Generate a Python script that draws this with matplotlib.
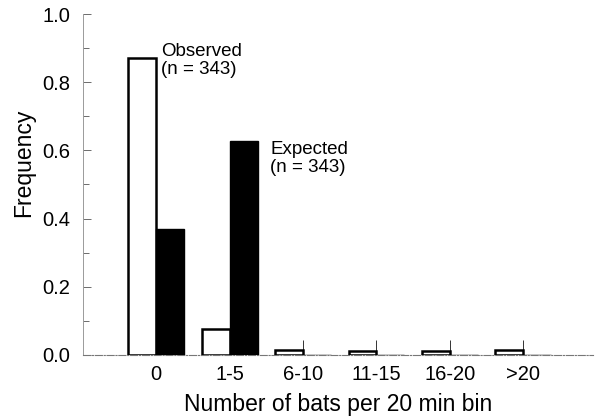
import numpy as np
import matplotlib
matplotlib.use("Agg")
import matplotlib.pyplot as plt
from matplotlib.ticker import MultipleLocator

plt.rcParams["font.family"] = ["Liberation Sans", "DejaVu Sans"]

BINS = ["0", "1-5", "6-10", "11-15", "16-20", ">20"]
OBSERVED = [0.871, 0.076, 0.015, 0.011, 0.010, 0.015]
EXPECTED = [0.370, 0.628, 0.0, 0.0, 0.0, 0.0]
N_OBS = 343
N_EXP = 343

W = 0.38

fig = plt.figure(figsize=(5.96, 4.18), dpi=100)
ax = fig.add_axes([0.139, 0.151, 0.856, 0.8155])

x = np.arange(len(BINS))
ax.bar(x - W / 2, OBSERVED, W, color="white", edgecolor="black", lw=1.8, zorder=3)
ax.bar(x + W / 2, EXPECTED, W, color="black", edgecolor="black", lw=1.0, zorder=3)

ax.set_xlim(-1.0, 5.95)
ax.set_ylim(0, 1.0)
ax.set_xticks(x)
ax.set_xticklabels(BINS, fontsize=14.5)
ax.yaxis.set_major_locator(MultipleLocator(0.2))
ax.yaxis.set_minor_locator(MultipleLocator(0.1))
ax.set_yticklabels([f"{v:.1f}" for v in ax.get_yticks()], fontsize=14.5)
ax.tick_params(axis="y", which="major", direction="in", length=6, width=0.6, color="#555555", pad=9)
ax.tick_params(axis="y", which="minor", direction="in", length=4, width=0.6, color="#555555")
ax.tick_params(axis="x", direction="in", length=11, width=0.7, color="#333333", pad=7)

for s in ["top", "right"]:
    ax.spines[s].set_visible(False)
ax.spines["left"].set_color("#9a9a9a")
ax.spines["left"].set_linewidth(0.7)
ax.spines["left"].set_linestyle((0, (4, 1)))
ax.spines["bottom"].set_color("#777777")
ax.spines["bottom"].set_linewidth(0.8)
ax.spines["bottom"].set_linestyle("-.")

ax.text(0.07, 0.915, f"Observed\n(n = {N_OBS})", fontsize=13.5, va="top", ha="left",
        linespacing=1.05)
ax.text(1.55, 0.627, f"Expected\n(n = {N_EXP})", fontsize=13.5, va="top", ha="left",
        linespacing=1.05)

ax.set_xlabel("Number of bats per 20 min bin", fontsize=16.5, labelpad=7)
ax.set_ylabel("Frequency", fontsize=16.5)
ax.yaxis.set_label_coords(-0.094, 0.563)

fig.savefig("out.png", dpi=100)
